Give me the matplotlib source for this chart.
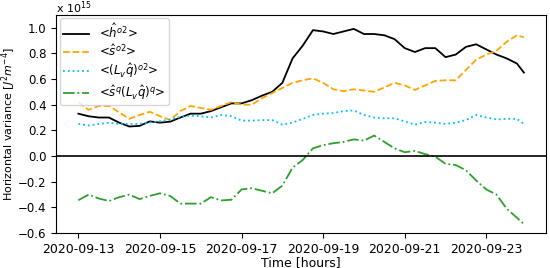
import numpy as np
import pandas as pd
import matplotlib
matplotlib.use('Agg')
import matplotlib.pyplot as plt
import matplotlib.dates as mdates

# temps : pas de 6 h depuis le 2020-09-13 00:00, dernier point vers 22 h le 23
jours = [i * 0.25 for i in range(44)] + [10.92]
temps = pd.Timestamp('2020-09-13') + pd.to_timedelta(jours, unit='D')

# valeurs en unites de 1e15
h_var = [0.33, 0.31, 0.30, 0.30, 0.26, 0.23, 0.235, 0.27, 0.26, 0.268, 0.30, 0.33,
         0.33, 0.35, 0.38, 0.41, 0.41, 0.435, 0.47, 0.50, 0.57, 0.76, 0.86, 0.98,
         0.97, 0.95, 0.97, 0.99, 0.95, 0.95, 0.94, 0.91, 0.84, 0.81, 0.84, 0.84,
         0.77, 0.79, 0.85, 0.87, 0.83, 0.79, 0.76, 0.72, 0.65]
s_var = [0.42, 0.36, 0.39, 0.39, 0.34, 0.29, 0.32, 0.345, 0.31, 0.28, 0.35, 0.39,
         0.375, 0.36, 0.39, 0.42, 0.40, 0.40, 0.45, 0.49, 0.53, 0.57, 0.59, 0.605,
         0.57, 0.52, 0.505, 0.52, 0.51, 0.50, 0.535, 0.57, 0.55, 0.515, 0.55, 0.585,
         0.59, 0.59, 0.67, 0.75, 0.79, 0.82, 0.89, 0.94, 0.925]
lq_var = [0.25, 0.238, 0.25, 0.26, 0.25, 0.25, 0.25, 0.262, 0.27, 0.285, 0.305, 0.315,
          0.31, 0.30, 0.32, 0.31, 0.276, 0.276, 0.28, 0.28, 0.245, 0.26, 0.29, 0.32,
          0.33, 0.335, 0.35, 0.355, 0.32, 0.30, 0.294, 0.294, 0.27, 0.245, 0.265, 0.26,
          0.25, 0.26, 0.28, 0.32, 0.30, 0.285, 0.29, 0.29, 0.25]
cov = [-0.344, -0.30, -0.33, -0.35, -0.32, -0.30, -0.335, -0.31, -0.29, -0.31, -0.37, -0.37,
       -0.37, -0.32, -0.345, -0.34, -0.26, -0.25, -0.27, -0.29, -0.23, -0.09, -0.03, 0.06,
       0.085, 0.10, 0.11, 0.13, 0.12, 0.16, 0.11, 0.06, 0.03, 0.04, 0.015, -0.005,
       -0.06, -0.07, -0.11, -0.19, -0.26, -0.30, -0.41, -0.48, -0.53]

plt.rcParams['font.size'] = 9

fig, ax = plt.subplots(figsize=(5.5, 2.68), dpi=100)
fig.subplots_adjust(left=0.102, right=0.993, top=0.945, bottom=0.13)

ax.plot(temps, h_var, color='black', linestyle='-', lw=1.3, label=r'<$\hat{h}^{o2}$>')
ax.plot(temps, s_var, color='orange', linestyle='--', lw=1.3, label=r'<$\hat{s}^{o2}$>')
ax.plot(temps, lq_var, color='deepskyblue', linestyle=':', lw=1.3, label=r'<$(L_v\hat{q})^{o2}$>')
ax.plot(temps, cov, color='tab:green', linestyle='-.', lw=1.3, label=r'<$\hat{s}^{q}(L_v\hat{q})^{q}$>')
ax.axhline(0, color='black', lw=1.2)

ax.set_ylim(-0.6, 1.1)
ax.set_yticks([-0.6, -0.4, -0.2, 0.0, 0.2, 0.4, 0.6, 0.8, 1.0])
ax.tick_params(axis='y', labelsize=8.5)
ax.xaxis.set_major_locator(mdates.DayLocator(bymonthday=[13, 15, 17, 19, 21, 23]))
ax.xaxis.set_major_formatter(mdates.DateFormatter('%Y-%m-%d'))
ax.set_xlabel('Time [hours]')
ax.set_ylabel(r'Horizontal variance [$J^2m^{-4}$]', fontsize=8)
ax.xaxis.set_label_coords(0.5, -0.105)
ax.yaxis.set_label_coords(-0.077, 0.5)
ax.text(0.0, 1.01, r'x 10$^{15}$', transform=ax.transAxes, fontsize=8, ha='left', va='baseline')
ax.legend(loc='upper left', fontsize=8.5, borderaxespad=0.3, labelspacing=0.2,
          borderpad=0.3, handlelength=2.2)

plt.savefig('out.png')
